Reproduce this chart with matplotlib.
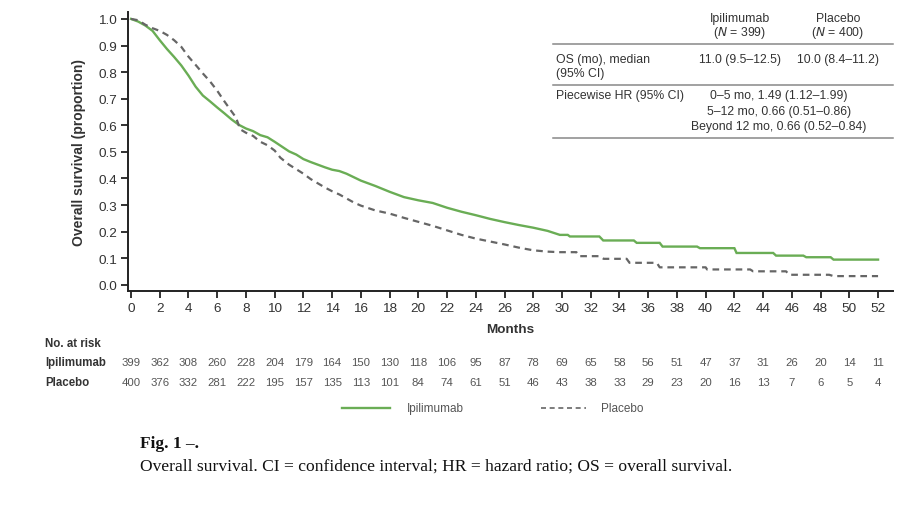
import matplotlib
matplotlib.use("Agg")
import matplotlib.pyplot as plt
from matplotlib.transforms import blended_transform_factory

# ---------------- data ----------------
ipi_months = [0, 0.5, 1.0, 1.5, 2.0, 2.5, 3.0, 3.5, 4.0, 4.5, 5.0, 5.5, 6.0, 6.5, 7.0, 7.5,
              8.0, 8.5, 9.0, 9.5, 10.0, 10.5, 11.0, 11.5, 12.0, 12.5, 13.0, 13.5, 14.0, 14.5,
              15.0, 15.5, 16.0, 17, 18, 19, 20, 21, 22, 23, 24, 25, 26, 27, 28, 29, 29.85,
              30.4, 30.55, 32.6, 32.87, 35.0, 35.2, 36.8, 37.0, 39.4, 39.6, 42.0, 42.15,
              44.7, 44.9, 46.8, 47.0, 48.7, 48.9, 52.0]
ipi_surv = [1.0, 0.99, 0.975, 0.955, 0.92, 0.887, 0.857, 0.825, 0.787, 0.745, 0.712, 0.69,
            0.667, 0.645, 0.622, 0.602, 0.588, 0.578, 0.563, 0.555, 0.538, 0.52, 0.502, 0.49,
            0.473, 0.462, 0.452, 0.442, 0.433, 0.428, 0.418, 0.405, 0.392, 0.372, 0.35, 0.33,
            0.318, 0.308, 0.29, 0.275, 0.262, 0.248, 0.236, 0.225, 0.215, 0.203, 0.188,
            0.188, 0.182, 0.182, 0.167, 0.167, 0.158, 0.158, 0.144, 0.144, 0.138, 0.138, 0.120,
            0.120, 0.110, 0.110, 0.104, 0.104, 0.095, 0.095]

pbo_months = [0, 0.5, 1.0, 1.5, 2.0, 2.5, 3.0, 3.5, 4.0, 4.5, 5.0, 5.5, 6.0, 6.5, 7.0, 7.3,
              7.6, 8.0, 8.5, 9.0, 9.5, 10.0, 10.4, 11.0, 11.5, 12.0, 12.5, 13.0, 13.5, 14.0,
              14.5, 15.0, 15.5, 16.0, 17, 18, 19, 20, 21, 22, 23, 24, 25, 26, 27, 28, 29,
              29.85, 31.0, 31.2, 32.6, 32.9, 34.5, 34.7, 36.6, 36.8, 40.0, 40.1, 43.1, 43.3,
              45.6, 45.8, 48.6, 48.9, 52.0]
pbo_surv = [1.0, 0.995, 0.978, 0.965, 0.955, 0.94, 0.92, 0.895, 0.858, 0.827, 0.795, 0.765,
            0.73, 0.69, 0.652, 0.63, 0.585, 0.572, 0.56, 0.538, 0.525, 0.505, 0.478, 0.452,
            0.435, 0.418, 0.398, 0.382, 0.366, 0.352, 0.34, 0.325, 0.31, 0.298, 0.28, 0.268,
            0.252, 0.237, 0.222, 0.205, 0.188, 0.174, 0.163, 0.152, 0.14, 0.13, 0.125,
            0.123, 0.123, 0.108, 0.108, 0.098, 0.098, 0.083, 0.083, 0.066, 0.066, 0.058,
            0.058, 0.051, 0.051, 0.038, 0.038, 0.033, 0.033]

risk_months = list(range(0, 53, 2))
risk_ipi = [399, 362, 308, 260, 228, 204, 179, 164, 150, 130, 118, 106, 95, 87, 78, 69, 65,
            58, 56, 51, 47, 37, 31, 26, 20, 14, 11]
risk_pbo = [400, 376, 332, 281, 222, 195, 157, 135, 113, 101, 84, 74, 61, 51, 46, 43, 38,
            33, 29, 23, 20, 16, 13, 7, 6, 5, 4]

y_ticks = [0.0, 0.1, 0.2, 0.3, 0.4, 0.5, 0.6, 0.7, 0.8, 0.9, 1.0]

col_headers = [("Ipilimumab", "399"), ("Placebo", "400")]
median_row = ["11.0 (9.5\u201312.5)", "10.0 (8.4\u201311.2)"]
hr_rows = ["0\u20135 mo, 1.49 (1.12\u20131.99)",
           "5\u201312 mo, 0.66 (0.51\u20130.86)",
           "Beyond 12 mo, 0.66 (0.52\u20130.84)"]

# ---------------- style ----------------
W, H = 916, 510
plt.rcParams['font.family'] = ['Liberation Sans', 'DejaVu Sans']
GREEN = '#6aad55'
GREY = '#666666'
TXT = '#333333'

fig = plt.figure(figsize=(W / 100, H / 100), dpi=100)
fig.patch.set_facecolor('white')


def fx(x):
    return x / W


def fy(y):
    return 1 - y / H


ax_l, ax_r, ax_t, ax_b = 128, 893, 13, 292
ax = fig.add_axes([fx(ax_l), fy(ax_b), (ax_r - ax_l) / W, (ax_b - ax_t) / H])

ax.plot(ipi_months, ipi_surv, color=GREEN, lw=1.7, solid_joinstyle='miter')
ax.plot(pbo_months, pbo_surv, color=GREY, lw=1.6, linestyle=(0, (3, 2.2)))

ax.set_xlim(-0.21, 53.04)
ax.set_ylim(-0.023, 1.026)
ax.set_xticks(risk_months)
ax.set_yticks(y_ticks)
ax.set_yticklabels([f"{v:.1f}" for v in y_ticks])
for s in ['top', 'right']:
    ax.spines[s].set_visible(False)
for s in ['left', 'bottom']:
    ax.spines[s].set_linewidth(1.4)
    ax.spines[s].set_color('#222222')
ax.tick_params(axis='both', direction='out', length=5, width=1.3, colors='#222222',
               labelsize=9.7, labelcolor=TXT, pad=3)
ax.set_ylabel("Overall survival (proportion)", fontsize=10, fontweight='bold', color=TXT,
              labelpad=9)
fig.text(fx(510), fy(330), "Months", fontsize=9.7, fontweight='bold', color=TXT,
         ha='center', va='center')

# ---------------- risk table ----------------
tr = blended_transform_factory(ax.transData, fig.transFigure)
fig.text(fx(45), fy(344), "No. at risk", fontsize=8.3, fontweight='bold', color=TXT,
         va='center', ha='left')
fig.text(fx(45), fy(363), "Ipilimumab", fontsize=8.3, fontweight='bold', color=TXT,
         va='center', ha='left')
fig.text(fx(45), fy(383), "Placebo", fontsize=8.3, fontweight='bold', color=TXT,
         va='center', ha='left')
for m, a, b in zip(risk_months, risk_ipi, risk_pbo):
    ax.text(m, fy(363), str(a), transform=tr, fontsize=8.2, color='#555555',
            ha='center', va='center')
    ax.text(m, fy(383), str(b), transform=tr, fontsize=8.2, color='#555555',
            ha='center', va='center')

# ---------------- legend ----------------
fig.add_artist(plt.Line2D([fx(342), fx(390)], [fy(409), fy(409)], color=GREEN, lw=1.7))
fig.text(fx(407), fy(409), "Ipilimumab", fontsize=8.5, color='#555555', va='center')
fig.add_artist(plt.Line2D([fx(541), fx(586)], [fy(409), fy(409)], color=GREY, lw=1.2,
                          linestyle=(0, (3, 2.2))))
fig.text(fx(601), fy(409), "Placebo", fontsize=8.5, color='#555555', va='center')

# ---------------- summary table ----------------
tfs = 8.8
c1, c2, chr_ = 740, 838, 779
for (h1, n), cx in zip(col_headers, [c1, c2]):
    fig.text(fx(cx), fy(19), h1, fontsize=tfs, color=TXT, ha='center', va='center')
    fig.text(fx(cx), fy(33), "(" + r"$\it{N}$" + " = " + n + ")", fontsize=tfs, color=TXT,
             ha='center', va='center')
for yy in [45, 86, 139]:
    fig.add_artist(plt.Line2D([fx(553), fx(893)], [fy(yy), fy(yy)], color='#888888', lw=1.1))
fig.text(fx(556), fy(60), "OS (mo), median", fontsize=tfs, color=TXT, va='center')
fig.text(fx(556), fy(74), "(95% CI)", fontsize=tfs, color=TXT, va='center')
fig.text(fx(c1), fy(60), median_row[0], fontsize=tfs, color=TXT, ha='center', va='center')
fig.text(fx(c2), fy(60), median_row[1], fontsize=tfs, color=TXT, ha='center', va='center')
fig.text(fx(556), fy(96), "Piecewise HR (95% CI)", fontsize=tfs, color=TXT, va='center')
for i, r in enumerate(hr_rows):
    fig.text(fx(chr_), fy(96 + 15.5 * i), r, fontsize=tfs, color=TXT, ha='center',
             va='center')

# ---------------- caption ----------------
fig.text(fx(140), fy(444), "Fig. 1 \u2013.", fontsize=12.5, fontweight='bold',
         family='Liberation Serif', color='#111111', va='center')
fig.text(fx(140), fy(467),
         "Overall survival. CI = confidence interval; HR = hazard ratio; OS = overall survival.",
         fontsize=12.6, family='Liberation Serif', color='#111111', va='center')

fig.savefig("out.png", dpi=100)
